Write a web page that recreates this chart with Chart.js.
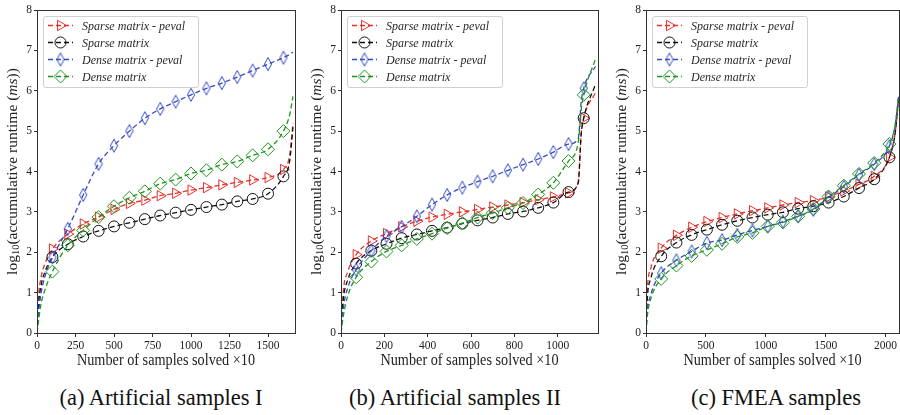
<!DOCTYPE html>
<html>
<head>
<meta charset="utf-8">
<script src="https://cdn.jsdelivr.net/npm/chart.js@4.4.1/dist/chart.umd.min.js"></script>
<style>
  body { margin: 0; background: #fff; }
  #wrap { position: relative; width: 900px; height: 415px; overflow: hidden; }
  #wrap canvas { position: absolute; top: 0; }
  .cap {
    position: absolute; top: 385px; line-height: 26px; white-space: nowrap;
    font-family: "Liberation Serif", "Times New Roman", serif; font-size: 22.5px;
    color: #111; transform: translateX(-50%);
  }
</style>
</head>
<body>
<div id="wrap">
  <canvas id="chartA" width="300" height="372" style="left:0px"></canvas>
  <canvas id="chartB" width="300" height="372" style="left:300px"></canvas>
  <canvas id="chartC" width="300" height="372" style="left:600px"></canvas>
  <div class="cap" id="capA" style="left:161px"></div>
  <div class="cap" id="capB" style="left:455px"></div>
  <div class="cap" id="capC" style="left:776px"></div>
</div>
<script>
const SERIF = '"Liberation Serif", "Times New Roman", serif';

const seriesNames = ['Sparse matrix - peval', 'Sparse matrix', 'Dense matrix - peval', 'Dense matrix'];
const captions = ['(a) Artificial samples I', '(b) Artificial samples II', '(c) FMEA samples'];
const yTicks = [0, 1, 2, 3, 4, 5, 6, 7, 8];

// (a) Artificial samples I
const xsA = [0, 10, 25, 50, 100, 200, 300, 400, 500, 600, 700, 800, 900, 1000, 1100, 1200, 1300, 1400, 1500, 1600, 1640, 1662];
const sparsePevalA = [0, 0.9, 1.35, 1.7, 2.08, 2.45, 2.70, 2.87, 3.06, 3.21, 3.29, 3.40, 3.46, 3.54, 3.60, 3.67, 3.73, 3.79, 3.85, 4.05, 4.4, 5.2];
const sparseA = [0, 0.7, 1.15, 1.5, 1.88, 2.20, 2.39, 2.53, 2.64, 2.73, 2.82, 2.91, 2.98, 3.05, 3.12, 3.18, 3.26, 3.32, 3.45, 3.88, 4.25, 5.1];
const densePevalA = [0, 0.5, 0.95, 1.38, 1.87, 2.58, 3.42, 4.19, 4.64, 5.0, 5.32, 5.55, 5.73, 5.90, 6.06, 6.19, 6.34, 6.50, 6.66, 6.82, 6.90, 6.96];
const denseA = [0, 0.3, 0.7, 1.05, 1.52, 2.17, 2.54, 2.87, 3.14, 3.35, 3.51, 3.70, 3.80, 3.95, 4.03, 4.17, 4.25, 4.40, 4.55, 5.0, 5.4, 5.86];
const xTicksA = [0, 250, 500, 750, 1000, 1250, 1500];

// (b) Artificial samples II
const xsB = [0, 10, 30, 70, 140, 210, 280, 350, 420, 490, 560, 630, 700, 770, 840, 910, 980, 1050, 1095, 1108, 1120, 1174];
const sparsePevalB = [0, 1.0, 1.5, 1.94, 2.28, 2.46, 2.63, 2.77, 2.87, 2.94, 3.00, 3.06, 3.12, 3.17, 3.23, 3.30, 3.37, 3.47, 3.75, 4.9, 5.32, 5.95];
const sparseB = [0, 0.8, 1.3, 1.72, 2.04, 2.21, 2.35, 2.44, 2.53, 2.61, 2.71, 2.79, 2.86, 2.95, 3.01, 3.10, 3.23, 3.49, 3.72, 4.9, 5.32, 6.15];
const densePevalB = [0, 0.6, 1.1, 1.57, 2.04, 2.40, 2.63, 2.89, 3.18, 3.42, 3.60, 3.75, 3.88, 4.03, 4.17, 4.31, 4.48, 4.68, 4.82, 5.7, 6.06, 6.6];
const denseB = [0, 0.4, 0.9, 1.38, 1.77, 2.02, 2.17, 2.33, 2.46, 2.60, 2.72, 2.86, 2.97, 3.10, 3.22, 3.43, 3.72, 4.26, 4.72, 5.5, 5.9, 6.78];
const xTicksB = [0, 200, 400, 600, 800, 1000];

// (c) FMEA samples
const xsC = [0, 10, 40, 127, 254, 381, 508, 635, 762, 889, 1016, 1143, 1270, 1397, 1524, 1651, 1778, 1905, 2032, 2080, 2108];
const sparsePevalC = [0, 1.0, 1.6, 2.10, 2.42, 2.62, 2.76, 2.86, 2.95, 3.03, 3.10, 3.17, 3.23, 3.28, 3.37, 3.52, 3.68, 3.88, 4.35, 4.95, 5.75];
const sparseC = [0, 0.8, 1.35, 1.90, 2.24, 2.43, 2.56, 2.68, 2.78, 2.86, 2.93, 2.99, 3.08, 3.14, 3.23, 3.38, 3.59, 3.81, 4.35, 4.95, 5.8];
const densePevalC = [0, 0.5, 0.95, 1.48, 1.80, 2.02, 2.23, 2.30, 2.43, 2.54, 2.64, 2.76, 2.89, 3.05, 3.36, 3.62, 3.92, 4.18, 4.63, 5.15, 5.85];
const denseC = [0, 0.4, 0.85, 1.34, 1.67, 1.91, 2.06, 2.21, 2.38, 2.48, 2.64, 2.74, 2.89, 3.07, 3.38, 3.65, 3.94, 4.21, 4.68, 5.15, 5.85];
const xTicksC = [0, 500, 1000, 1500, 2000];

// style for the four series
const colors = ['#e6302a', '#111111', '#3448c4', '#1e961e'];

// thin diamond has no built-in style, so it is a small canvas
function makeThinDiamond(color) {
  const c = document.createElement('canvas');
  c.width = 10; c.height = 16;
  const g = c.getContext('2d');
  g.strokeStyle = color;
  g.lineWidth = 1;
  g.beginPath();
  g.moveTo(5, 1.5); g.lineTo(8.6, 8); g.lineTo(5, 14.5); g.lineTo(1.4, 8); g.closePath();
  g.stroke();
  return c;
}
const thinDiamond = makeThinDiamond(colors[2]);
const pointStyles = ['triangle', 'circle', thinDiamond, 'rectRot'];
const pointRotations = [90, 0, 0, 0];
const pointSizes = [6, 5.5, 5, 6.5];

// legend markers, same shapes as Chart.js draws them
function drawMarker(ctx, i, x, y) {
  ctx.strokeStyle = colors[i];
  ctx.lineWidth = 1;
  const r = pointSizes[i];
  ctx.beginPath();
  if (i === 0) {
    ctx.moveTo(x + r, y);
    ctx.lineTo(x - 0.5 * r, y + 0.866 * r);
    ctx.lineTo(x - 0.5 * r, y - 0.866 * r);
    ctx.closePath();
  } else if (i === 1) {
    ctx.arc(x, y, r, 0, Math.PI * 2);
  } else if (i === 2) {
    ctx.drawImage(thinDiamond, x - 5, y - 8);
    return;
  } else {
    ctx.moveTo(x, y - r); ctx.lineTo(x + r, y); ctx.lineTo(x, y + r); ctx.lineTo(x - r, y);
    ctx.closePath();
  }
  ctx.stroke();
}

// compressed text helper (figure was squeezed horizontally)
function squeezedText(ctx, text, x, y, sx) {
  ctx.save();
  ctx.translate(x, y);
  ctx.scale(sx, 1);
  ctx.fillText(text, 0, 0);
  ctx.restore();
}

const decorPlugin = {
  id: 'decor',
  afterDraw(chart) {
    const { ctx, chartArea: a } = chart;
    ctx.save();
    // frame
    ctx.strokeStyle = '#333';
    ctx.lineWidth = 1;
    ctx.strokeRect(Math.round(a.left) + 0.5, Math.round(a.top) + 0.5, Math.round(a.right - a.left), Math.round(a.bottom - a.top));

    // legend
    const bx = a.left + 6, by = a.top + 6, bw = 155, bh = 71;
    ctx.beginPath();
    ctx.roundRect(bx + 0.5, by + 0.5, bw, bh, 2.5);
    ctx.fillStyle = 'rgba(255,255,255,0.85)';
    ctx.fill();
    ctx.strokeStyle = '#d0d0d0';
    ctx.stroke();
    seriesNames.forEach((name, i) => {
      const y = by + 9.5 + i * 17;
      ctx.strokeStyle = colors[i];
      ctx.lineWidth = 1.3;
      ctx.setLineDash([5, 3]);
      ctx.beginPath();
      ctx.moveTo(bx + 5, y);
      ctx.lineTo(bx + 30, y);
      ctx.stroke();
      ctx.setLineDash([]);
      drawMarker(ctx, i, bx + 17.5, y);
      ctx.fillStyle = '#2a2a2a';
      ctx.font = 'italic 13.5px ' + SERIF;
      ctx.textBaseline = 'middle';
      ctx.textAlign = 'left';
      squeezedText(ctx, name, bx + 39, y + 0.5, 0.89);
    });

    // x title
    ctx.fillStyle = '#222';
    ctx.font = '16px ' + SERIF;
    ctx.textAlign = 'center';
    ctx.textBaseline = 'alphabetic';
    squeezedText(ctx, 'Number of samples solved \u00d710', (a.left + a.right) / 2, 365, 0.89);

    // y title with subscript and italic ms
    const parts = [
      { t: 'log', f: '15.5px ' + SERIF, dy: 0 },
      { t: '10', f: '10.5px ' + SERIF, dy: 3.5 },
      { t: '(accumulative runtime (', f: '15.5px ' + SERIF, dy: 0 },
      { t: 'ms', f: 'italic 15.5px ' + SERIF, dy: 0 },
      { t: '))', f: '15.5px ' + SERIF, dy: 0 }
    ];
    ctx.translate(a.left - 24, (a.top + a.bottom) / 2);
    ctx.rotate(-Math.PI / 2);
    ctx.textAlign = 'left';
    ctx.textBaseline = 'middle';
    let total = 0;
    parts.forEach(p => { ctx.font = p.f; p.w = ctx.measureText(p.t).width; total += p.w; });
    let x = -total / 2;
    parts.forEach(p => {
      ctx.font = p.f;
      ctx.fillText(p.t, x, p.dy);
      x += p.w;
    });
    ctx.restore();
  }
};

function buildChart(id, xs, series, xTicks, xMax, markStep, left, right) {
  const datasets = series.map((ys, i) => ({
    label: seriesNames[i],
    data: xs.map((x, j) => ({ x, y: ys[j] })),
    borderColor: colors[i],
    borderWidth: 1.3,
    borderDash: [5, 3],
    pointStyle: pointStyles[i],
    pointRotation: pointRotations[i],
    pointBorderColor: colors[i],
    pointBackgroundColor: 'rgba(0,0,0,0)',
    pointBorderWidth: 1,
    pointRadius: c => (xs[c.dataIndex] > 0 && xs[c.dataIndex] % markStep === 0) ? pointSizes[i] : 0,
    cubicInterpolationMode: 'monotone',
    fill: false,
    order: 3 - i
  }));

  const tickFont = { family: SERIF, size: 11.5 };
  return new Chart(document.getElementById(id), {
    type: 'line',
    data: { datasets },
    options: {
      responsive: false,
      animation: false,
      events: [],
      layout: { padding: { top: 10, right: 300 - right, left: 0, bottom: 0 } },
      plugins: { legend: { display: false }, tooltip: { enabled: false } },
      scales: {
        x: {
          type: 'linear', min: 0, max: xMax,
          afterBuildTicks: s => { s.ticks = xTicks.map(v => ({ value: v })); },
          afterFit: s => { s.height = 39; },
          border: { display: false },
          grid: { drawOnChartArea: false, drawTicks: true, tickLength: 4, color: '#333' },
          ticks: { color: '#222', font: tickFont, padding: 2, maxRotation: 0, autoSkip: false, callback: v => String(v) }
        },
        y: {
          type: 'linear', min: 0, max: 8,
          afterBuildTicks: s => { s.ticks = yTicks.map(v => ({ value: v })); },
          afterFit: s => { s.width = left; },
          border: { display: false },
          grid: { drawOnChartArea: false, drawTicks: true, tickLength: 3, color: '#333' },
          ticks: { color: '#222', font: tickFont, padding: 2, callback: v => String(v) }
        }
      }
    },
    plugins: [decorPlugin]
  });
}

buildChart('chartA', xsA, [sparsePevalA, sparseA, densePevalA, denseA], xTicksA, 1675, 100, 37, 295);
buildChart('chartB', xsB, [sparsePevalB, sparseB, densePevalB, denseB], xTicksB, 1186, 70, 41, 298);
buildChart('chartC', xsC, [sparsePevalC, sparseC, densePevalC, denseC], xTicksC, 2112, 127, 46, 299);

document.getElementById('capA').textContent = captions[0];
document.getElementById('capB').textContent = captions[1];
document.getElementById('capC').textContent = captions[2];
</script>
</body>
</html>
